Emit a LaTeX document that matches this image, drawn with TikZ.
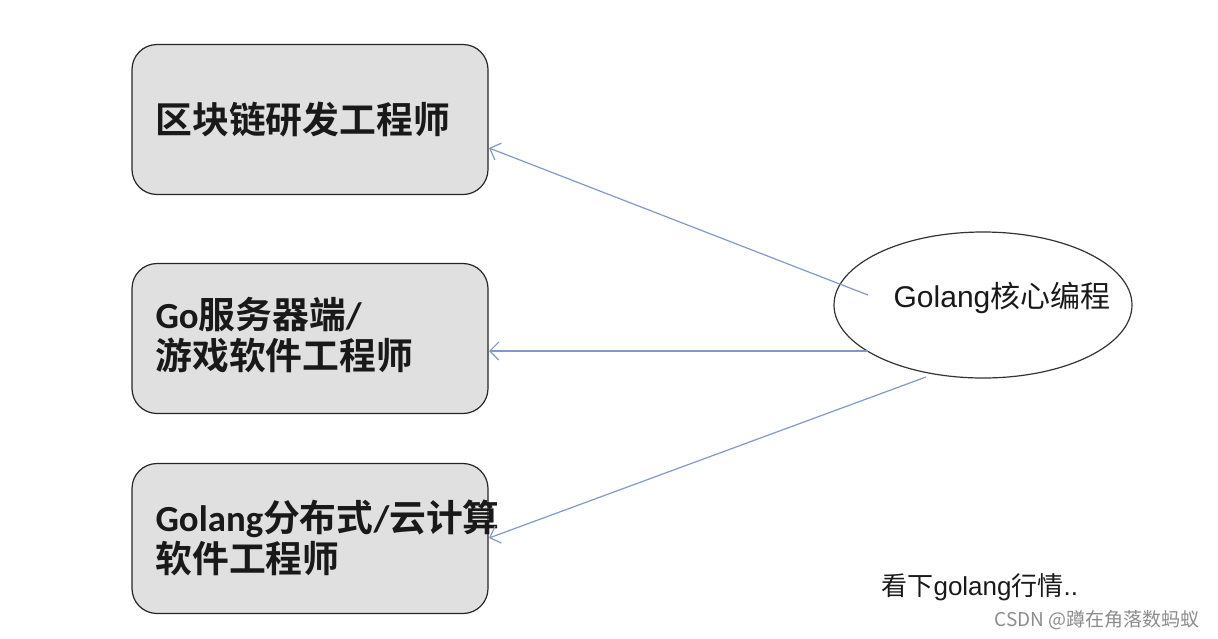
\documentclass[tikz,border=0pt]{standalone}
\usepackage{fontspec}
\setmainfont{Liberation Sans}
\newfontfamily\cjk{Noto Sans CJK SC}
\newfontfamily\cjkb{Noto Sans CJK SC Bold}
\newfontfamily\latb{Carlito Bold}
\newfontfamily\ari{Liberation Sans}
\newcommand{\LB}[1]{{\latb #1}}
\newcommand{\LA}[1]{{\ari #1}}
\usetikzlibrary{arrows.meta,shapes.geometric}
\definecolor{boxfill}{HTML}{E0E0E0}
\definecolor{linkblue}{HTML}{7F9AC8}
\tikzset{
  jobbox/.style={draw=black!85, line width=1.2pt, fill=boxfill, rounded corners=25pt,
    minimum width=356pt, minimum height=150pt, inner sep=0pt},
  jobtext/.style={anchor=west, align=left, font=\cjkb\fontsize{36.8}{41}\selectfont, text=black!90},
  link/.style={draw=linkblue, line width=1.2pt, -{Straight Barb[length=9pt,width=18pt,line width=1.2pt]}},
}
\begin{document}
\begin{tikzpicture}[x=1pt,y=-1pt]
\useasboundingbox (0,0) rectangle (1218,638);
\node[jobbox] (b1) at (310,119.5) {};
\node[jobbox] (b2) at (310,338.5) {};
\node[jobbox] (b3) at (310,538.5) {};
\node[jobtext] (t1) at (152,120) {区块链研发工程师};
\node[jobtext] (t2) at (152,335) {\LB{Go}服务器端\LB{/}\\游戏软件工程师};
\node[jobtext] (t3) at (152,538) {\LB{Golang}分布式\LB{/}云计算\\软件工程师};
\node[draw=black!80, line width=1.2pt, ellipse, minimum width=298pt, minimum height=146pt, inner sep=0pt] (e) at (983,305) {};
\node[anchor=center, font=\cjk\fontsize{30}{32}\selectfont, text=black!90] (et) at (1002,298) {\LA{Golang}核心编程};
\coordinate (s1) at (868,295);
\coordinate (s2) at (868,351);
\coordinate (s3) at (926,377);
\coordinate (e1) at (489,148);
\coordinate (e2) at (489,351);
\coordinate (e3) at (489,538);
\draw[link] (s1) -- (e1);
\draw[link] (s2) -- (e2);
\draw[link] (s3) -- (e3);
\node[anchor=west, font=\cjk\fontsize{26}{28}\selectfont, text=black!90] (note) at (878,587) {看下\LA{golang}行情\LA{..}};
\node[anchor=east, font=\cjk\fontsize{19}{21}\selectfont, text=black!45] (wm) at (1203,620) {CSDN @蹲在角落数蚂蚁};
\end{tikzpicture}
\end{document}
